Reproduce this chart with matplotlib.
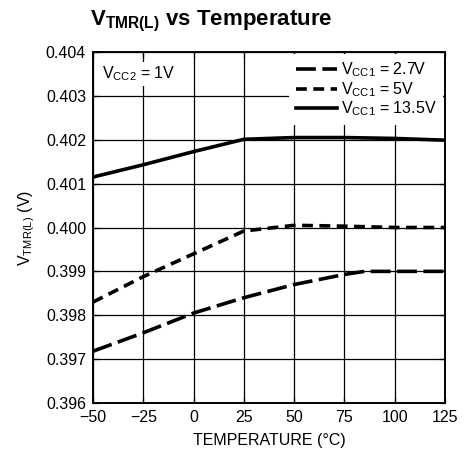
import matplotlib
matplotlib.use("Agg")
import matplotlib.pyplot as plt
from matplotlib import font_manager

# fonts: narrow sans if available
names = {f.name for f in font_manager.fontManager.ttflist}
fam = "Liberation Sans Narrow" if "Liberation Sans Narrow" in names else "Liberation Sans"
plt.rcParams["font.family"] = [fam, "DejaVu Sans"]
plt.rcParams["mathtext.fontset"] = "custom"
plt.rcParams["mathtext.rm"] = fam

# data
temp = [-50, -25, 0, 25, 50, 75, 100, 125]
temp_27 = [-50, -25, 0, 25, 50, 75, 85, 100, 125]
v_27 = [0.39718, 0.39760, 0.39805, 0.39840, 0.39870, 0.39893, 0.39900, 0.39900, 0.39900]
v_5 = [0.39830, 0.39888, 0.39940, 0.39992, 0.40005, 0.40003, 0.40000, 0.40000]
v_135 = [0.40115, 0.40143, 0.40173, 0.40201, 0.40205, 0.40205, 0.40203, 0.40199]

xticks = [-50, -25, 0, 25, 50, 75, 100, 125]
xticklabels = ["\u221250", "\u221225", "0", "25", "50", "75", "100", "125"]
yticks = [0.396, 0.397, 0.398, 0.399, 0.400, 0.401, 0.402, 0.403, 0.404]

fig = plt.figure(figsize=(4.72, 4.59), dpi=100)
ax = fig.add_axes([93 / 472, 1 - 403 / 459, 352 / 472, 351 / 459])

ax.plot(temp_27, v_27, color="black", lw=2.6, dashes=(5.5, 1.8), label=r"V$_{\mathregular{CC1}}$ = 2.7V")
ax.plot(temp, v_5, color="black", lw=2.6, dashes=(3.0, 1.8), label=r"V$_{\mathregular{CC1}}$ = 5V")
ax.plot(temp, v_135, color="black", lw=2.6, label=r"V$_{\mathregular{CC1}}$ = 13.5V")

ax.set_xlim(-50, 125)
ax.set_ylim(0.396, 0.404)
ax.set_xticks(xticks)
ax.set_xticklabels(xticklabels)
ax.set_yticks(yticks)
ax.set_yticklabels([f"{v:.3f}" for v in yticks])
ax.grid(True, color="black", lw=0.9)
ax.set_axisbelow(True)
ax.tick_params(direction="in", length=4, width=0.9, labelsize=11.5, top=True, right=True, pad=5)
for s in ax.spines.values():
    s.set_linewidth(1.4)

ax.set_xlabel("TEMPERATURE (\u00b0C)", fontsize=11.5, labelpad=6)
ax.set_ylabel(r"V$_{\mathregular{TMR(L)}}$ (V)", fontsize=11.5, labelpad=6)

ax.text(0.025, 0.965, r"V$_{\mathregular{CC2}}$ = 1V", transform=ax.transAxes, fontsize=11.5,
        ha="left", va="top", bbox=dict(facecolor="white", edgecolor="none", pad=2))

leg = ax.legend(loc="upper right", fontsize=11.5, handlelength=2.6, handletextpad=0.2,
                labelspacing=0.05, borderaxespad=0.15, borderpad=0.4, fancybox=False,
                framealpha=1, edgecolor="none")

fig.text(0.19, 0.953, r"V$_{\mathregular{TMR(L)}}$ vs Temperature", fontsize=16,
         fontweight="bold", ha="left", va="center")

fig.savefig("out.png", dpi=100)
